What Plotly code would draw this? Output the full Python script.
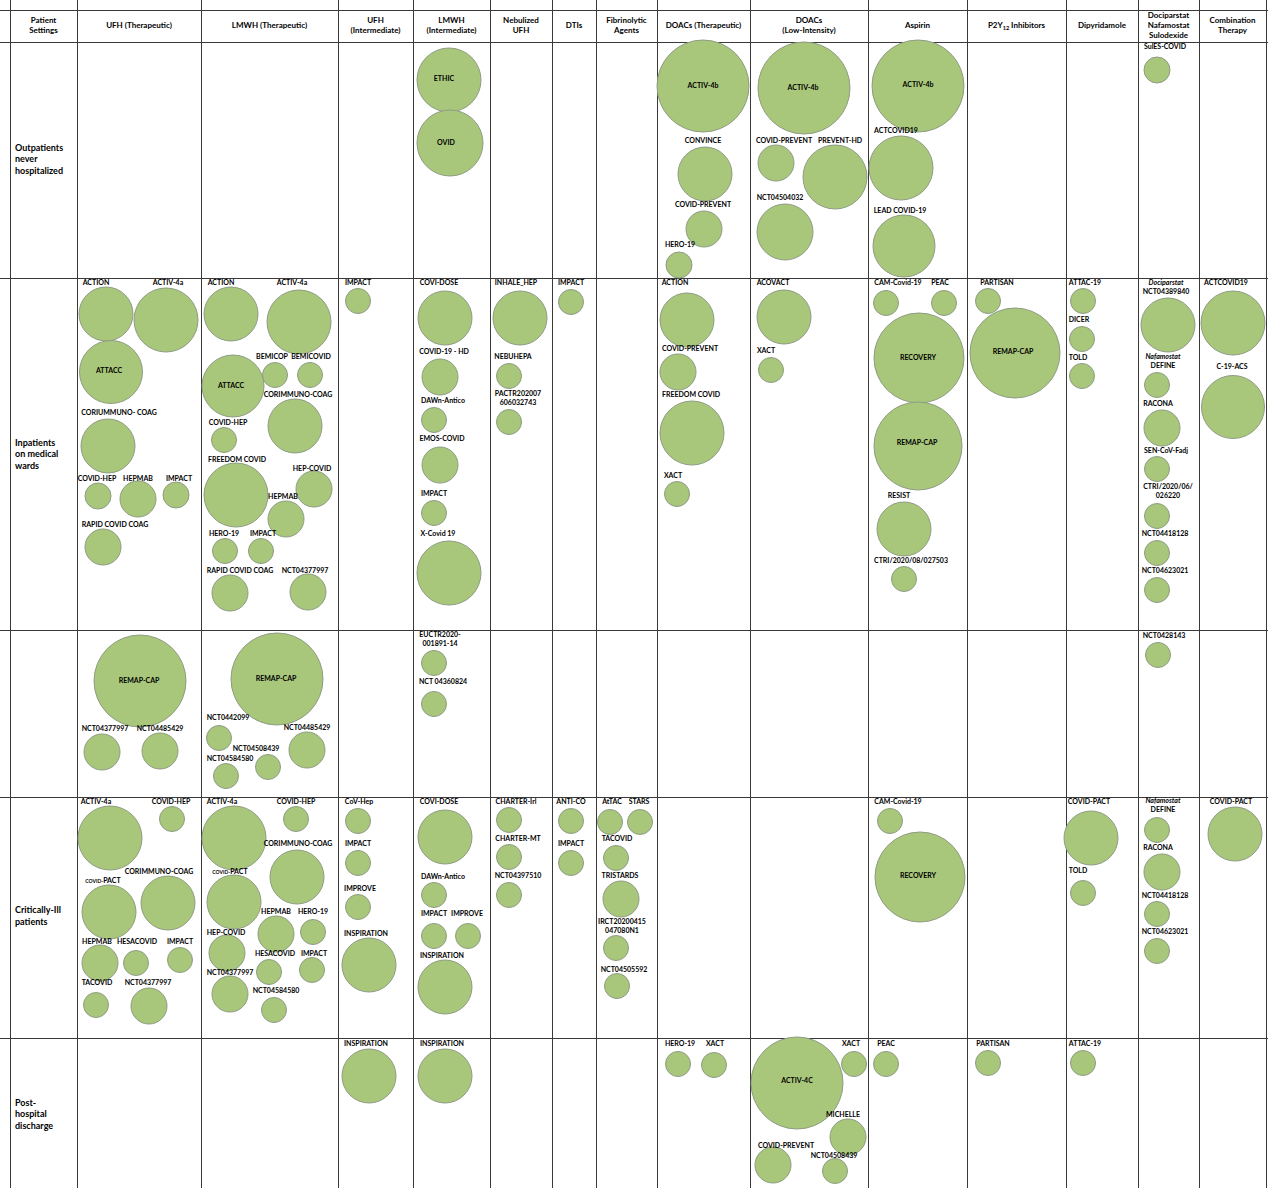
import plotly.graph_objects as go

# ---- table structure (column / row boundaries on the page, in px units) ----
col_edges = [10, 77, 201, 338, 413, 490, 552, 596, 657, 750, 868, 967, 1066, 1138, 1199, 1266]
row_edges = [10, 42, 278, 630, 797, 1038, 1187]

col_headers = ["Patient<br>Settings", "UFH (Therapeutic)", "LMWH (Therapeutic)", "UFH<br>(Intermediate)",
               "LMWH<br>(Intermediate)", "Nebulized<br>UFH", "DTIs", "Fibrinolytic<br>Agents",
               "DOACs (Therapeutic)", "DOACs<br>(Low-Intensity)", "Aspirin", "P2Y<sub>12</sub> Inhibitors",
               "Dipyridamole", "Dociparstat<br>Nafamostat<br>Sulodexide", "Combination<br>Therapy"]

row_labels = ["Outpatients<br>never<br>hospitalized", "Inpatients<br>on medical<br>wards",
              "Critically-Ill<br>patients", "Post-<br>hospital<br>discharge"]
row_label_y = [160, 455, 917, 1115]

# ---- trials: (name, centre x, centre y, diameter, label x, label y) ----
outpatient_trials = [
    ("ETHIC", 449, 80, 64, 444, 79), ("OVID", 450, 143, 66, 446, 143),
    ("ACTIV-4b", 703, 86, 92, 703, 86), ("CONVINCE", 705, 174, 54, 703, 141),
    ("COVID-PREVENT", 704, 229, 36, 703, 205), ("HERO-19", 679, 265, 26, 680, 245),
    ("ACTIV-4b", 804, 88, 92, 803, 88), ("COVID-PREVENT", 776, 163, 36, 784, 141),
    ("PREVENT-HD", 835, 177, 64, 840, 141), ("NCT04504032", 785, 232, 56, 780, 198),
    ("ACTIV-4b", 918, 86, 92, 918, 85), ("ACTCOVID19", 901, 168, 64, 896, 131),
    ("LEAD COVID-19", 904, 246, 62, 900, 211), ("SulES-COVID", 1157, 70, 26, 1165, 47),
]

ward_trials = [
    ("ACTION", 106, 314, 54, 96, 283), ("ACTIV-4a", 166, 320, 64, 168, 283),
    ("ATTACC", 111, 372, 63, 109, 371), ("CORIUMMUNO- COAG", 108, 446, 54, 119, 413),
    ("COVID-HEP", 98, 496, 26, 97, 479), ("HEPMAB", 138, 499, 36, 138, 479),
    ("IMPACT", 176, 495, 26, 179, 479), ("RAPID COVID COAG", 103, 547, 36, 115, 525),
    ("ACTION", 231, 314, 54, 221, 283), ("ACTIV-4a", 299, 322, 64, 292, 283),
    ("BEMICOP", 275, 375, 25, 272, 357), ("BEMICOVID", 310, 375, 25, 311, 357),
    ("ATTACC", 233, 386, 62, 231, 386), ("CORIMMUNO-COAG", 295, 426, 54, 298, 395),
    ("COVID-HEP", 224, 440, 25, 228, 423), ("FREEDOM COVID", 236, 495, 64, 237, 460),
    ("HEP-COVID", 314, 489, 36, 312, 469), ("HEPMAB", 286, 519, 36, 283, 497),
    ("HERO-19", 225, 551, 25, 224, 534), ("IMPACT", 261, 551, 25, 263, 534),
    ("RAPID COVID COAG", 230, 593, 36, 240, 571), ("NCT04377997", 308, 592, 36, 305, 571),
    ("IMPACT", 358, 301, 25, 358, 283),
    ("COVI-DOSE", 445, 318, 54, 439, 283), ("COVID-19 - HD", 440, 377, 36, 444, 352),
    ("DAWn-Antico", 434, 420, 25, 443, 401), ("EMOS-COVID", 440, 465, 36, 442, 439),
    ("IMPACT", 434, 513, 25, 434, 494), ("X-Covid 19", 449, 573, 64, 438, 534),
    ("INHALE_HEP", 520, 318, 54, 516, 283), ("NEBUHEPA", 509, 376, 25, 513, 357),
    ("PACTR202007<br>606032743", 509, 422, 25, 518, 399),
    ("IMPACT", 571, 302, 25, 571, 283),
    ("ACTION", 687, 320, 54, 675, 283), ("COVID-PREVENT", 678, 372, 36, 690, 349),
    ("FREEDOM COVID", 692, 433, 64, 691, 395), ("XACT", 677, 494, 25, 673, 476),
    ("ACOVACT", 784, 317, 54, 773, 283), ("XACT", 771, 370, 25, 766, 351),
    ("CAM-Covid-19", 886, 303, 25, 898, 283), ("PEAC", 944, 303, 25, 940, 283),
    ("RECOVERY", 919, 358, 90, 918, 358), ("REMAP-CAP", 918, 446, 88, 917, 443),
    ("RESIST", 904, 529, 54, 899, 496), ("CTRI/2020/08/027503", 904, 579, 25, 911, 561),
    ("PARTISAN", 988, 301, 25, 997, 283), ("REMAP-CAP", 1015, 353, 90, 1013, 352),
    ("ATTAC-19", 1083, 301, 25, 1085, 283), ("DICER", 1082, 339, 25, 1079, 320),
    ("TOLD", 1082, 376, 25, 1078, 358),
    ("<i>Dociparstat</i><br>NCT04389840", 1168, 325, 54, 1166, 288),
    ("<i>Nafamostat</i><br>DEFINE", 1157, 385, 25, 1163, 362),
    ("RACONA", 1162, 428, 36, 1158, 404), ("SEN-CoV-Fadj", 1157, 469, 25, 1166, 451),
    ("CTRI/2020/06/<br>026220", 1157, 516, 25, 1168, 492),
    ("NCT04418128", 1157, 553, 25, 1165, 534), ("NCT04623021", 1157, 590, 25, 1165, 571),
    ("ACTCOVID19", 1233, 323, 64, 1226, 283), ("C-19-ACS", 1233, 407, 63, 1232, 367),
]

unlabelled_row_trials = [
    ("REMAP-CAP", 140, 681, 92, 139, 681), ("NCT04377997", 102, 752, 36, 105, 729),
    ("NCT04485429", 160, 751, 36, 160, 729),
    ("REMAP-CAP", 277, 679, 92, 276, 679), ("NCT0442099", 219, 738, 25, 228, 718),
    ("NCT04485429", 307, 750, 36, 307, 728), ("NCT04508439", 268, 767, 25, 256, 749),
    ("NCT04584580", 226, 776, 25, 230, 759),
    ("EUCTR2020-<br>001891-14", 434, 663, 25, 440, 640),
    ("NCT 04360824", 434, 704, 25, 443, 682),
    ("NCT0428143", 1158, 655, 25, 1164, 636),
]

critical_trials = [
    ("ACTIV-4a", 110, 838, 64, 96, 802), ("COVID-HEP", 172, 819, 25, 171, 802),
    ("CORIMMUNO-COAG", 168, 903, 54, 159, 872),
    ("<span style='font-size:5px'>COVID-</span>PACT", 109, 912, 54, 103, 881),
    ("HEPMAB", 100, 963, 36, 97, 942), ("HESACOVID", 136, 963, 25, 137, 942),
    ("IMPACT", 180, 960, 25, 180, 942), ("TACOVID", 96, 1005, 25, 97, 983),
    ("NCT04377997", 149, 1006, 36, 148, 983),
    ("ACTIV-4a", 234, 838, 64, 222, 802), ("COVID-HEP", 296, 819, 25, 296, 802),
    ("CORIMMUNO-COAG", 297, 877, 54, 298, 844),
    ("<span style='font-size:5px'>COVID-</span>PACT", 234, 902, 54, 230, 872),
    ("HEPMAB", 276, 934, 36, 276, 912), ("HERO-19", 313, 932, 25, 313, 912),
    ("HEP-COVID", 227, 953, 36, 226, 933), ("HESACOVID", 269, 972, 25, 275, 954),
    ("IMPACT", 312, 970, 25, 314, 954), ("NCT04377997", 230, 994, 36, 230, 973),
    ("NCT04584580", 274, 1010, 25, 276, 991),
    ("CoV-Hep", 358, 821, 25, 359, 802), ("IMPACT", 358, 863, 25, 358, 844),
    ("IMPROVE", 358, 907, 25, 360, 889), ("INSPIRATION", 369, 965, 54, 366, 934),
    ("COVI-DOSE", 445, 837, 54, 439, 802), ("DAWn-Antico", 434, 895, 25, 443, 877),
    ("IMPACT", 434, 936, 25, 434, 914), ("IMPROVE", 468, 936, 25, 467, 914),
    ("INSPIRATION", 445, 987, 54, 442, 956),
    ("CHARTER-Irl", 509, 820, 25, 516, 802), ("CHARTER-MT", 509, 857, 25, 518, 839),
    ("NCT04397510", 509, 895, 25, 518, 876),
    ("ANTI-CO", 571, 821, 25, 571, 802), ("IMPACT", 571, 863, 25, 571, 844),
    ("AtTAC", 610, 822, 25, 612, 802), ("STARS", 640, 822, 25, 639, 802),
    ("TACOVID", 616, 858, 25, 617, 839), ("TRISTARDS", 621, 899, 36, 620, 876),
    ("IRCT20200415<br>047080N1", 616, 948, 25, 622, 927),
    ("NCT04505592", 617, 986, 25, 624, 970),
    ("CAM-Covid-19", 890, 821, 25, 898, 802), ("RECOVERY", 920, 877, 90, 918, 876),
    ("COVID-PACT", 1091, 838, 54, 1089, 802), ("TOLD", 1083, 893, 25, 1078, 871),
    ("<i>Nafamostat</i><br>DEFINE", 1157, 830, 25, 1163, 806),
    ("RACONA", 1162, 872, 36, 1158, 848), ("NCT04418128", 1157, 914, 25, 1165, 896),
    ("NCT04623021", 1157, 951, 25, 1165, 932),
    ("COVID-PACT", 1235, 834, 54, 1231, 802),
]

discharge_trials = [
    ("INSPIRATION", 369, 1076, 54, 366, 1044), ("INSPIRATION", 445, 1076, 54, 442, 1044),
    ("HERO-19", 678, 1064, 25, 680, 1044), ("XACT", 714, 1065, 25, 715, 1044),
    ("ACTIV-4C", 797, 1083, 92, 797, 1081), ("XACT", 854, 1064, 25, 851, 1044),
    ("MICHELLE", 848, 1137, 36, 843, 1115), ("COVID-PREVENT", 773, 1165, 36, 786, 1146),
    ("NCT04508439", 835, 1171, 25, 834, 1156),
    ("PEAC", 886, 1064, 25, 886, 1044), ("PARTISAN", 988, 1063, 25, 993, 1044),
    ("ATTAC-19", 1083, 1063, 25, 1085, 1044),
]

all_trials = outpatient_trials + ward_trials + unlabelled_row_trials + critical_trials + discharge_trials

fig = go.Figure()

# bubbles
fig.add_trace(go.Scatter(
    x=[t[1] for t in all_trials], y=[t[2] for t in all_trials], mode="markers",
    marker=dict(size=[t[3] for t in all_trials], sizemode="diameter", color="#A8C77B",
                opacity=1, line=dict(color="#8E9C84", width=1)),
    hoverinfo="skip", showlegend=False))

# trial labels
fig.add_trace(go.Scatter(
    x=[t[4] for t in all_trials], y=[t[5] for t in all_trials], mode="text",
    text=["<b>" + t[0] + "</b>" for t in all_trials],
    textfont=dict(family="Lato", size=7, color="#000000"),
    hoverinfo="skip", showlegend=False))

# column headers
hx = [(col_edges[i] + col_edges[i + 1]) / 2 for i in range(len(col_headers))]
fig.add_trace(go.Scatter(
    x=hx, y=[26] * len(hx), mode="text",
    text=["<b>" + h + "</b>" for h in col_headers],
    textfont=dict(family="Lato", size=8, color="#000000"),
    hoverinfo="skip", showlegend=False))

# row labels
fig.add_trace(go.Scatter(
    x=[15] * len(row_labels), y=row_label_y, mode="text", textposition="middle right",
    text=["<b>" + r + "</b>" for r in row_labels],
    textfont=dict(family="Lato", size=9, color="#000000"),
    hoverinfo="skip", showlegend=False))

fig.update_layout(
    width=1268, height=1188, margin=dict(l=0, r=0, t=0, b=0),
    paper_bgcolor="white", plot_bgcolor="white",
    xaxis=dict(range=[0, 1268], tickvals=col_edges, showticklabels=False, ticks="",
               showgrid=True, gridcolor="#3a3a3a", gridwidth=1.4, zeroline=False, fixedrange=True),
    yaxis=dict(range=[1188, 0], tickvals=row_edges, showticklabels=False, ticks="",
               showgrid=True, gridcolor="#3a3a3a", gridwidth=1.4, zeroline=False, fixedrange=True),
)

fig.write_html("out.html", config={"displayModeBar": False},
               post_script="document.body.style.margin='0';document.body.style.overflow='hidden';")
